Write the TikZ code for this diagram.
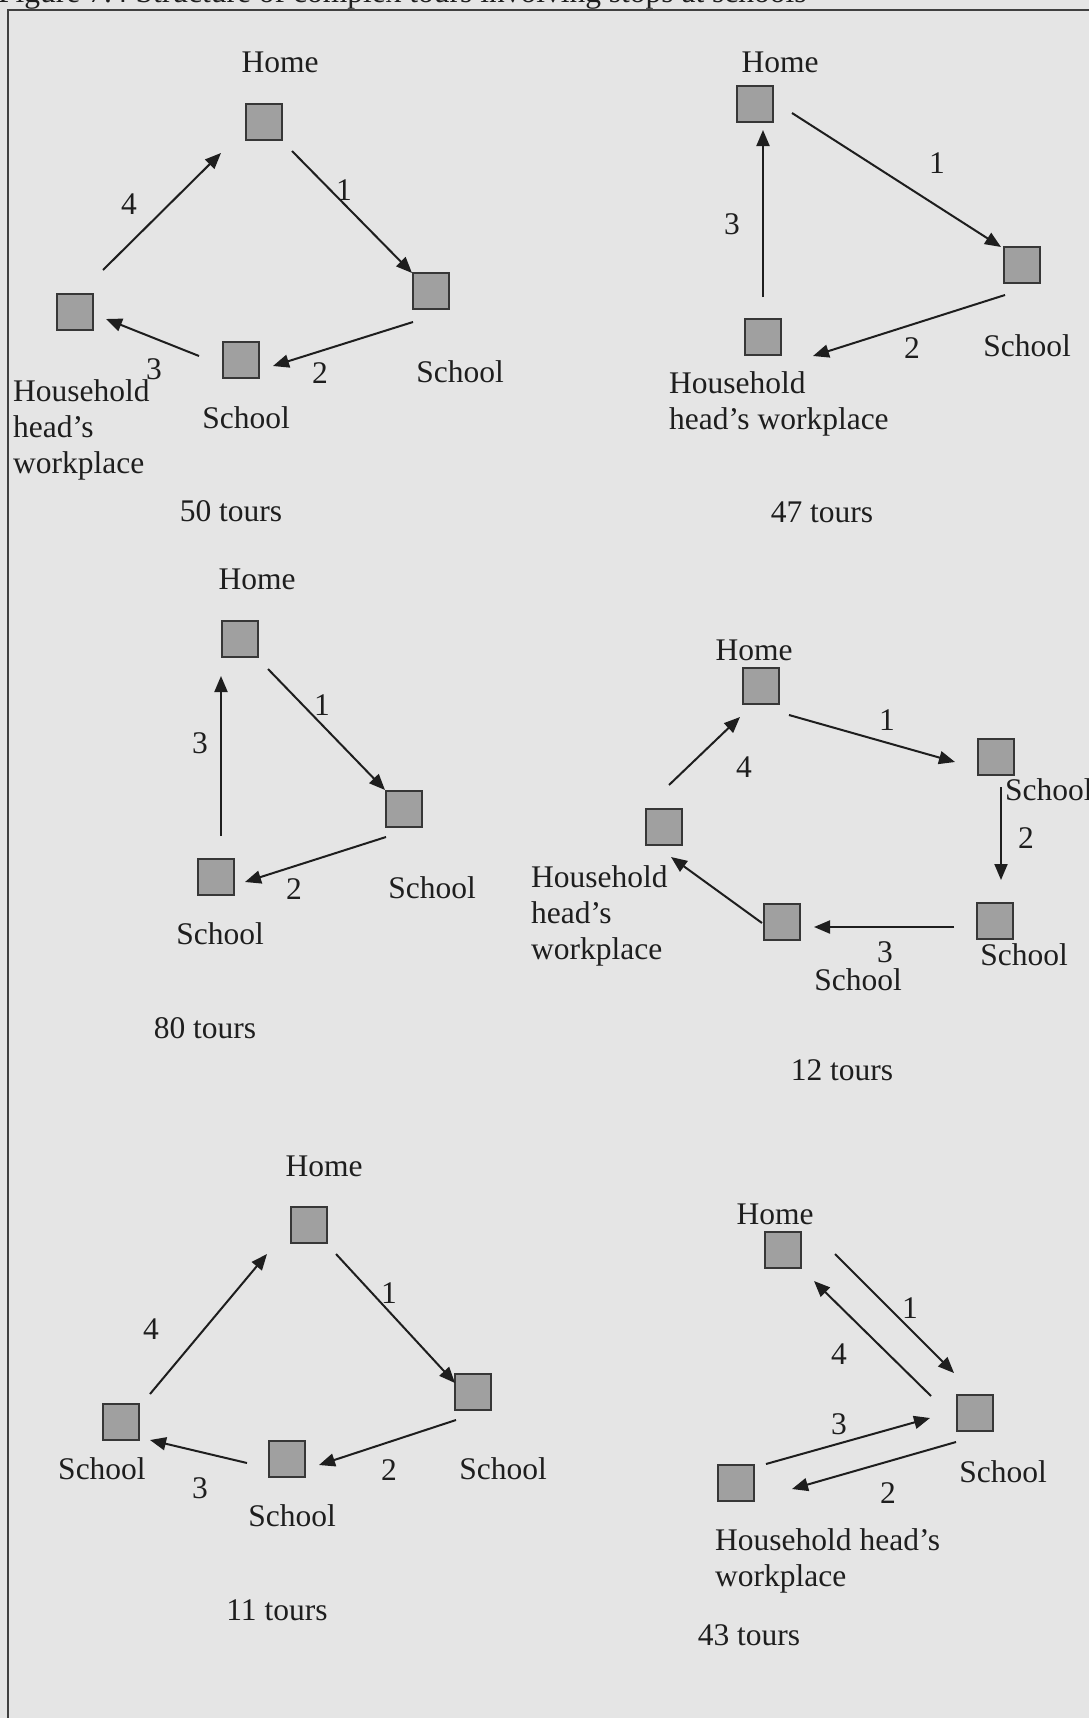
\documentclass[tikz,border=0pt]{standalone}
\usepackage{fontspec}
\setmainfont{Liberation Serif}
\usetikzlibrary{arrows.meta,calc}
\definecolor{paper}{RGB}{229,229,229}
\definecolor{boxfill}{RGB}{160,160,160}
\definecolor{boxline}{RGB}{55,55,55}
\definecolor{ink}{RGB}{30,30,30}
\tikzset{
  stopbox/.style={draw=boxline, fill=boxfill, line width=2.4pt, minimum size=36pt, inner sep=0pt},
  lbl/.style={text=ink, inner sep=0pt, anchor=base},
  lblw/.style={text=ink, inner sep=0pt, anchor=base west, align=left},
  num/.style={text=ink, inner sep=0pt},
  arr/.style={draw=ink, line width=2pt, -{Triangle[length=16pt,width=13pt]}},
  frameline/.style={draw=ink!85, line width=2pt},
}
\begin{document}
\begin{tikzpicture}[x=1pt, y=-1pt, font=\fontsize{31.5}{36}\selectfont]
\useasboundingbox (0,0) rectangle (1089,1718);
\fill[paper] (0,0) rectangle (1089,1718);

% caption line, running off the top edge
\node[lblw] (title) at (-2,3) {Figure 7.4 Structure of complex tours involving stops at schools};
% frame
\draw[frameline] (8,1718) -- (8,10) -- (1089,10);

% multi-line labels below are placed by the baseline of their last line

% ---------- tour type 1: 50 tours ----------
\node[stopbox] (h1)  at (264,122) {};
\node[stopbox] (s1a) at (431,291) {};
\node[stopbox] (s1b) at (241,360) {};
\node[stopbox] (w1)  at (75,312) {};
\node[lbl] (h1t)  at (280,73) {Home};
\node[lbl] (s1at) at (460,382) {School};
\node[lbl] (s1bt) at (246,428) {School};
\node[lblw] (w1t) at (13,473) {Household\\head’s\\workplace};
\node[lbl] (n1t)  at (231,521) {50 tours};
\draw[arr] ($(h1)+(28,29)$) -- ($(s1a)+(-19,-18)$);
\draw[arr] ($(s1a)+(-18,31)$) -- ($(s1b)+(32,6)$);
\draw[arr] ($(s1b)+(-42,-4)$) -- ($(w1)+(31,7)$);
\draw[arr] ($(w1)+(28,-42)$) -- ($(h1)+(-43,31)$);
\node[num] (d11) at (344,190) {1};
\node[num] (d12) at (320,373) {2};
\node[num] (d13) at (154,369) {3};
\node[num] (d14) at (129,204) {4};

% ---------- tour type 2: 47 tours ----------
\node[stopbox] (h2) at (755,104) {};
\node[stopbox] (s2) at (1022,265) {};
\node[stopbox] (w2) at (763,337) {};
\node[lbl] (h2t) at (780,73) {Home};
\node[lbl] (s2t) at (1027,356) {School};
\node[lblw] (w2t) at (669,429) {Household\\head’s workplace};
\node[lbl] (n2t) at (822,522) {47 tours};
\draw[arr] ($(h2)+(37,9)$) -- ($(s2)+(-21,-18)$);
\draw[arr] ($(s2)+(-17,30)$) -- ($(w2)+(50,19)$);
\draw[arr] ($(w2)+(0,-40)$) -- ($(h2)+(8,26)$);
\node[num] (d21) at (937,163) {1};
\node[num] (d22) at (912,348) {2};
\node[num] (d23) at (732,224) {3};

% ---------- tour type 3: 80 tours ----------
\node[stopbox] (h3)  at (240,639) {};
\node[stopbox] (s3a) at (404,809) {};
\node[stopbox] (s3b) at (216,877) {};
\node[lbl] (h3t)  at (257,589) {Home};
\node[lbl] (s3at) at (432,898) {School};
\node[lbl] (s3bt) at (220,944) {School};
\node[lbl] (n3t)  at (205,1038) {80 tours};
\draw[arr] ($(h3)+(28,30)$) -- ($(s3a)+(-19,-19)$);
\draw[arr] ($(s3a)+(-18,28)$) -- ($(s3b)+(29,5)$);
\draw[arr] ($(s3b)+(5,-41)$) -- ($(h3)+(-19,37)$);
\node[num] (d31) at (322,705) {1};
\node[num] (d32) at (294,889) {2};
\node[num] (d33) at (200,743) {3};

% ---------- tour type 4: 12 tours ----------
\node[stopbox] (h4)  at (761,686) {};
\node[stopbox] (s4a) at (996,757) {};
\node[stopbox] (s4b) at (995,921) {};
\node[stopbox] (s4c) at (782,922) {};
\node[stopbox] (w4)  at (664,827) {};
\node[lbl] (h4t)  at (754,660) {Home};
\node[lblw] (s4at) at (1005,800) {School};
\node[lbl] (s4bt) at (1024,965) {School};
\node[lbl] (s4ct) at (858,990) {School};
\node[lblw] (w4t) at (531,959) {Household\\head’s\\workplace};
\node[lbl] (n4t)  at (842,1080) {12 tours};
\draw[arr] ($(h4)+(28,29)$) -- ($(s4a)+(-41,5)$);
\draw[arr] ($(s4a)+(5,30)$) -- ($(s4b)+(6,-41)$);
\draw[arr] ($(s4b)+(-41,6)$) -- ($(s4c)+(32,5)$);
\draw[arr] ($(s4c)+(-20,1)$) -- ($(w4)+(7,30)$);
\draw[arr] ($(w4)+(5,-42)$) -- ($(h4)+(-21,31)$);
\node[num] (d41) at (887,720) {1};
\node[num] (d42) at (1026,838) {2};
\node[num] (d43) at (885,952) {3};
\node[num] (d44) at (744,767) {4};

% ---------- tour type 5: 11 tours ----------
\node[stopbox] (h5)  at (309,1225) {};
\node[stopbox] (s5a) at (473,1392) {};
\node[stopbox] (s5b) at (287,1459) {};
\node[stopbox] (s5c) at (121,1422) {};
\node[lbl] (h5t)  at (324,1176) {Home};
\node[lbl] (s5at) at (503,1479) {School};
\node[lbl] (s5bt) at (292,1526) {School};
\node[lbl] (s5ct) at (102,1479) {School};
\node[lbl] (n5t)  at (277,1620) {11 tours};
\draw[arr] ($(h5)+(27,29)$) -- ($(s5a)+(-18,-9)$);
\draw[arr] ($(s5a)+(-17,28)$) -- ($(s5b)+(32,6)$);
\draw[arr] ($(s5b)+(-40,4)$) -- ($(s5c)+(29,18)$);
\draw[arr] ($(s5c)+(29,-28)$) -- ($(h5)+(-42,29)$);
\node[num] (d51) at (389,1293) {1};
\node[num] (d52) at (389,1470) {2};
\node[num] (d53) at (200,1488) {3};
\node[num] (d54) at (151,1329) {4};

% ---------- tour type 6: 43 tours ----------
\node[stopbox] (h6) at (783,1250) {};
\node[stopbox] (s6) at (975,1413) {};
\node[stopbox] (w6) at (736,1483) {};
\node[lbl] (h6t) at (775,1224) {Home};
\node[lbl] (s6t) at (1003,1482) {School};
\node[lblw] (w6t) at (715,1586) {Household head’s\\workplace};
\node[lbl] (n6t) at (749,1645) {43 tours};
\draw[arr] ($(h6)+(52,4)$) -- ($(s6)+(-21,-40)$);
\draw[arr] ($(s6)+(-19,29)$) -- ($(w6)+(56,6)$);
\draw[arr] ($(w6)+(30,-19)$) -- ($(s6)+(-45,5)$);
\draw[arr] ($(s6)+(-44,-17)$) -- ($(h6)+(31,31)$);
\node[num] (d61) at (910,1308) {1};
\node[num] (d62) at (888,1493) {2};
\node[num] (d63) at (839,1424) {3};
\node[num] (d64) at (839,1354) {4};
\end{tikzpicture}
\end{document}
